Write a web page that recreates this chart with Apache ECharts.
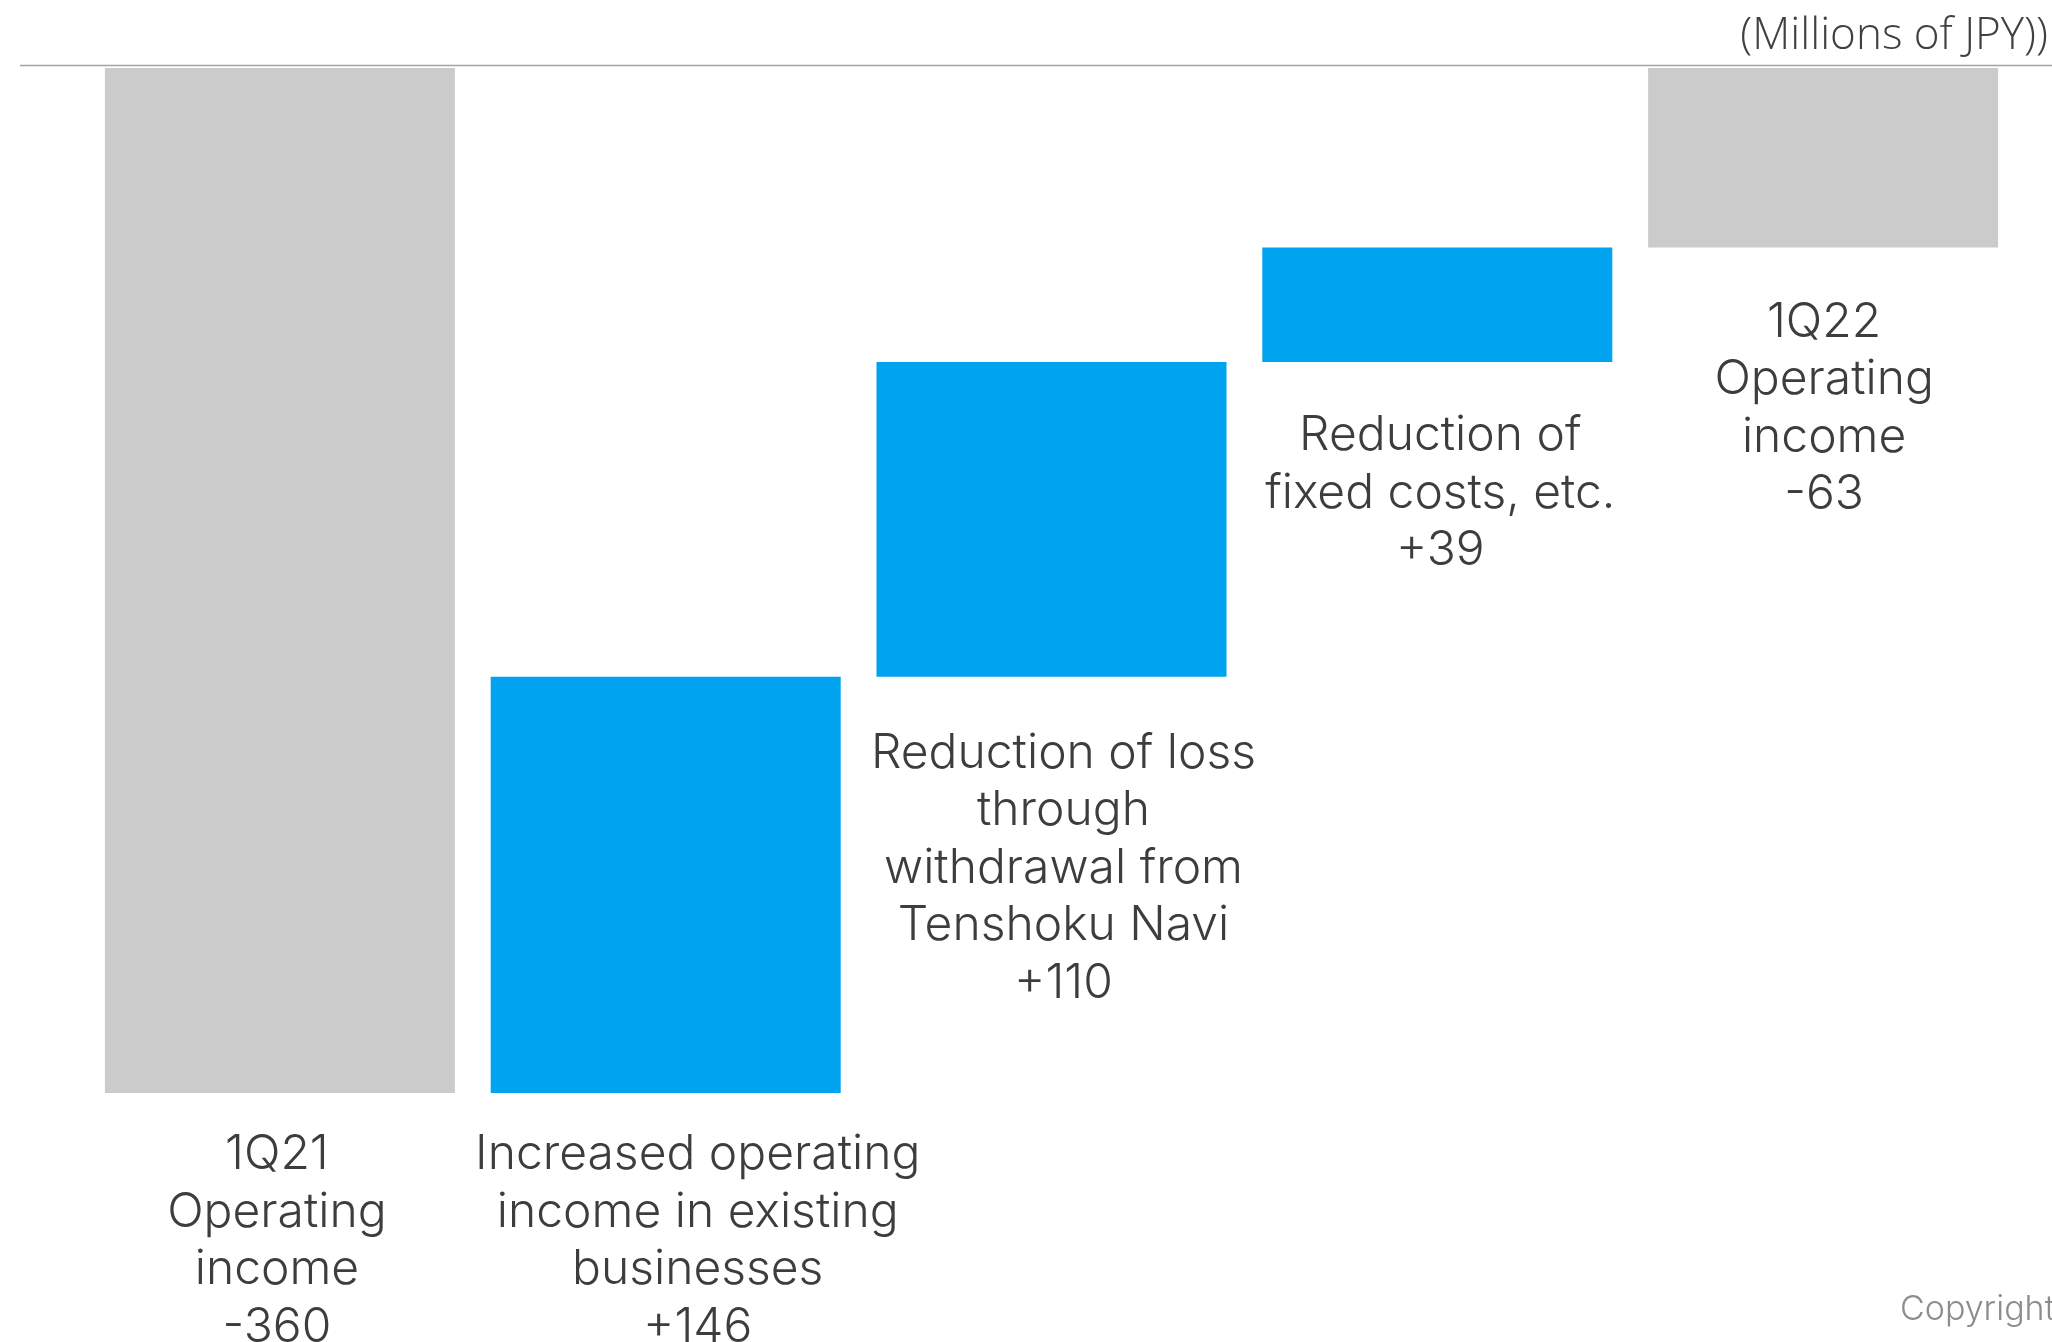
<!DOCTYPE html>
<html>
<head>
<meta charset="utf-8">
<script src="https://cdn.jsdelivr.net/npm/echarts@6/dist/echarts.min.js"></script>
<style>
html,body{margin:0;padding:0;background:#fff;}
#chart{width:2052px;height:1342px;}
</style>
</head>
<body>
<div id="chart"></div>
<script>
// ---- data ----
const categories = [
  '1Q21\nOperating\nincome',
  'Increased operating\nincome in existing\nbusinesses',
  'Reduction of loss\nthrough\nwithdrawal from\nTenshoku Navi',
  'Reduction of\nfixed costs, etc.',
  '1Q22\nOperating\nincome'
];
// bar sizes (labels are rounded figures)
const values = [-360, 146.2, 110.5, 40.3, -63];
const valueLabels = ['-360', '+146', '+110', '+39', '-63'];
const kinds = ['total', 'delta', 'delta', 'delta', 'total'];
const unitText = '(Millions of JPY))';
const copyrightText = 'Copyright © 2021 en-japan inc. All Rights Reserved.';

// ---- layout / style (not data) ----
const labelDistance = [33, 33, 48, 45, 46];
const labelOffsetX = [-3, 32, 12, 3, 1];

// build waterfall
let running = 0;
const baseData = [], showData = [];
values.forEach((v, i) => {
  if (kinds[i] === 'total') {
    baseData.push(0);
    showData.push(v);
    running = v;
  } else {
    const start = running, end = running + v;
    baseData.push(Math.max(start, end));
    showData.push(Math.min(start, end) - Math.max(start, end));
    running = end;
  }
});

const chart = echarts.init(document.getElementById('chart'));
const textColor = '#3d3d3d';
chart.setOption({
  animation: false,
  backgroundColor: '#ffffff',
  grid: {left: 87, right: 36, top: 68, bottom: 249},
  xAxis: {type: 'category', data: categories, show: false},
  yAxis: {type: 'value', min: -360, max: 0, show: false},
  series: [
    {
      type: 'bar', stack: 'w', barWidth: 350,
      itemStyle: {color: 'transparent'},
      data: baseData, silent: true
    },
    {
      type: 'bar', stack: 'w', barWidth: 350,
      data: showData.map((v, i) => ({
        value: v,
        itemStyle: {color: kinds[i] === 'total' ? '#cbcbcb' : '#00a3ef'},
        label: {distance: labelDistance[i], offset: [labelOffsetX[i], 0]}
      })),
      label: {
        show: true,
        position: 'bottom',
        color: textColor,
        fontFamily: 'Inter',
        fontWeight: 300,
        fontSize: 48,
        lineHeight: 57.5,
        align: 'center',
        formatter: p => categories[p.dataIndex] + '\n' + valueLabels[p.dataIndex]
      }
    }
  ],
  graphic: [
    {
      type: 'line',
      shape: {x1: 20, y1: 65.5, x2: 2052, y2: 65.5},
      style: {stroke: '#a3a3a3', lineWidth: 1.5}
    },
    {
      type: 'text', right: 4, top: 14,
      style: {text: unitText, fill: '#404040', font: '300 44px "Open Sans"', textAlign: 'right'}
    },
    {
      type: 'text', left: 1900, top: 1293,
      style: {text: copyrightText, fill: '#8c8c8c', font: '300 34px Inter'}
    }
  ]
});
</script>
</body>
</html>
